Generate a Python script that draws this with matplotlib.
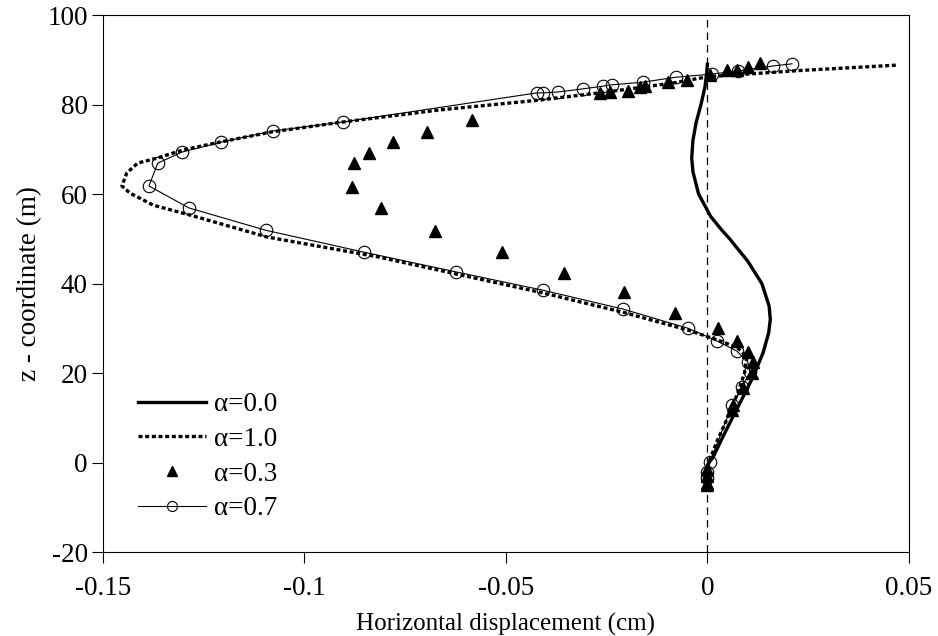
import numpy as np
import matplotlib
matplotlib.use("Agg")
import matplotlib.pyplot as plt

plt.rcParams['font.family'] = ['Liberation Serif', 'DejaVu Serif']
plt.rcParams['axes.unicode_minus'] = False

# alpha = 0.0 (thick solid line): depth z (m), displacement (cm)
z_a00 = [-1, 0, 1.2, 5.7, 10.2, 14.6, 19.1, 24.5, 29, 32, 35, 40, 45, 50, 52, 55, 60, 65, 68, 72, 76, 80, 84, 87, 89]
x_a00 = [0.0, 0.0004, 0.0014, 0.0038, 0.0063, 0.0088, 0.0113, 0.0138, 0.0152, 0.0156, 0.0153, 0.0135, 0.0100, 0.0055,
         0.0035, 0.0008, -0.0022, -0.0036, -0.0039, -0.0036, -0.0028, -0.0016, -0.0006, -0.0002, 0.0]

# alpha = 1.0 (dotted line)
z_a10 = [-1, 0, 5, 10, 15, 20, 23.6, 25.8, 27.4, 29.6, 30.7, 33.6, 37.9, 42.2, 46, 50.4, 55.3, 57.5, 60.2, 61.8,
         64.7, 66.9, 68, 69.8, 71.6, 73.9, 76.1, 78.8, 81, 82.8, 84.8, 86.2, 87.6, 88.8]
x_a10 = [0.0, 0.0003, 0.0025, 0.005, 0.0073, 0.0092, 0.0098, 0.0073, 0.0024, -0.0048, -0.0093, -0.021, -0.0408,
         -0.0627, -0.082, -0.1093, -0.1284, -0.1375, -0.1433, -0.1453, -0.1441, -0.1414, -0.1367, -0.1303, -0.121,
         -0.108, -0.0904, -0.0664, -0.0416, -0.025, -0.0086, 0.0, 0.023, 0.047]

# alpha = 0.3 (filled triangles)
z_a03 = [-5, -4.5, -3, -1.5, 11.7, 12.8, 16.6, 20.0, 22.5, 24.7, 27.2, 30.0, 33.5, 38.1, 42.3, 47.0, 51.8, 56.8,
         61.6, 66.9, 69.1, 71.6, 73.9, 76.5, 82.6, 82.8, 83.0, 83.9, 84.1, 85.0, 85.5, 86.6, 87.7, 87.7, 88.4, 89.3]
x_a03 = [-0.0001, 0.0, 0.0, 0.0, 0.006, 0.0063, 0.0088, 0.011, 0.0113, 0.0101, 0.0073, 0.0027, -0.008, -0.0207,
         -0.0357, -0.0509, -0.0677, -0.0809, -0.0883, -0.0878, -0.084, -0.078, -0.0695, -0.0584, -0.0267, -0.0242,
         -0.0197, -0.0167, -0.0155, -0.0098, -0.0051, 0.0006, 0.0048, 0.0073, 0.01, 0.013]

# alpha = 0.7 (thin line with open circles)
z_a07 = [-3.5, -2.1, 0.1, 12.8, 16.9, 20.2, 22.5, 24.9, 27.2, 30.0, 34.3, 38.5, 42.6, 47.0, 51.9, 56.9, 61.8,
         66.9, 69.4, 71.6, 74.1, 76.1, 82.6, 82.6, 82.8, 83.5, 84.1, 84.4, 85.0, 86.1, 86.8, 87.5, 88.6, 89.1]
x_a07 = [0.0, 0.0, 0.0006, 0.0061, 0.0086, 0.0105, 0.01, 0.0073, 0.0023, -0.0048, -0.021, -0.0408, -0.0624,
         -0.0852, -0.1096, -0.1287, -0.1386, -0.1364, -0.1303, -0.1206, -0.1077, -0.0904, -0.0423, -0.0408,
         -0.0371, -0.0309, -0.0259, -0.0237, -0.016, -0.0078, 0.0011, 0.0076, 0.0162, 0.021]

fig = plt.figure(figsize=(9.38, 6.36), dpi=100)
ax = fig.add_axes([0.1098, 0.132, 0.8592, 0.8444])

ax.axvline(0, color='black', lw=0.9, ls=(0, (6, 4)), zorder=1)
ax.plot(x_a00, z_a00, color='black', lw=2.4, label='\u03b1=0.0', zorder=3)
ax.plot(x_a10, z_a10, color='black', lw=2.4, ls=(0, (1.2, 0.8)), label='\u03b1=1.0', zorder=2)
ax.plot(x_a03, z_a03, ls='none', marker='^', ms=9, color='black', label='\u03b1=0.3', zorder=4)
ax.plot(x_a07, z_a07, color='black', lw=0.8, marker='o', ms=9, mfc='none', mec='black', mew=0.8,
        label='\u03b1=0.7', zorder=4)

ax.set_xlim(-0.15, 0.05)
ax.set_ylim(-20, 100)
ax.set_xticks([-0.15, -0.1, -0.05, 0, 0.05])
ax.set_xticklabels(['-0.15', '-0.1', '-0.05', '0', '0.05'])
ax.set_yticks([-20, 0, 20, 40, 60, 80, 100])
ax.tick_params(direction='out', length=8, width=0.8, labelsize=19.5, pad=3)
ax.tick_params(axis='x', pad=9)
for s in ax.spines.values():
    s.set_linewidth(0.8)

ax.set_xlabel('Horizontal displacement (cm)', fontsize=18, labelpad=9)
ax.set_ylabel('z - coordinate (m)', fontsize=19.5, labelpad=4)

ax.legend(loc='upper left', bbox_to_anchor=(0.044, 0.298), frameon=False, fontsize=19.5,
          handlelength=2.5, handletextpad=0.3, labelspacing=0.36, markerscale=0.8, borderaxespad=0,
          borderpad=0)

fig.savefig('out.png', dpi=100)
